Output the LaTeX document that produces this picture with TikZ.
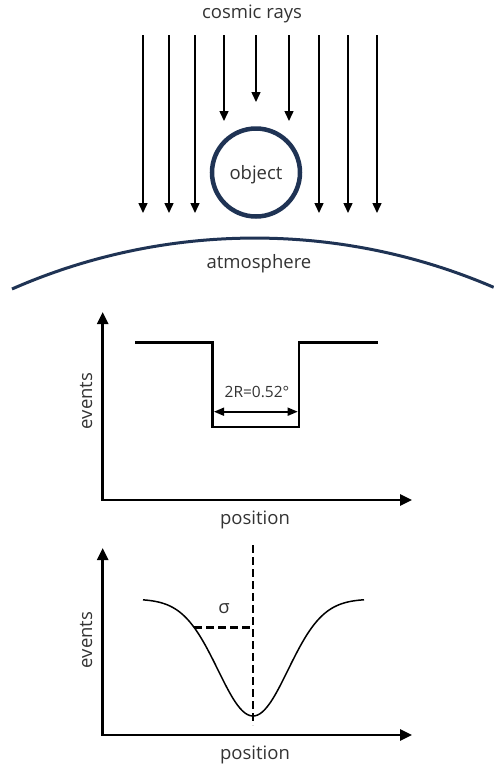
\documentclass[tikz,border=0pt]{standalone}
\usepackage{fontspec}
\setmainfont{Open Sans}
\usetikzlibrary{arrows.meta}
\definecolor{navy}{HTML}{1F3354}
\definecolor{txt}{HTML}{333333}

\begin{document}
\begin{tikzpicture}[x=1pt, y=-1pt,
	lbl/.style={text=txt, font=\fontsize{18.5}{22}\selectfont, inner sep=0pt},
	ray/.style={line width=1.5pt, -{Triangle[width=9pt, length=10pt]}},
	axis/.style={line width=2.6pt, {Triangle[width=11pt, length=12pt]}-{Triangle[width=11pt, length=12pt]}},
	dimline/.style={line width=1.6pt, {Triangle[width=8pt, length=10pt]}-{Triangle[width=8pt, length=10pt]}},
	]
	\useasboundingbox (0,0) rectangle (494,766);
	% cosmic rays and object
	\node[lbl] (rays) at (252,14) {cosmic rays};
	\foreach \x in {143,169,195,319,348,377}
		\draw[ray] (\x,35) -- (\x,213);
	\foreach \x/\y in {224/121,256/102,289/121}
		\draw[ray] (\x,35) -- (\x,\y);
	\draw[navy, line width=4.5pt] (256,172.5) circle (44);
	\node[lbl] (obj) at (256,175) {object};
	\draw[navy, line width=3pt] (12,289) arc[start angle=246.3, end angle=293.3, radius=604];
	\node[lbl] (atm) at (259,264) {atmosphere};
	% top hat
	\coordinate (o1) at (102.7,500);
	\draw[axis] (102.7,312) -- (o1) -- (412,500);
	\draw[line width=2.6pt] (135,342.7) -- (212.7,342.7) -- (212.7,427) -- (299,427) -- (299,342.7) -- (377.7,342.7);
	\coordinate (wl) at (214,411.7);
	\coordinate (wr) at (297.7,411.7);
	\draw[dimline] (wl) -- (wr);
	\node[lbl, font=\fontsize{15.5}{18}\selectfont] (width) at (257,392) {2R=0.52°};
	\node[lbl, rotate=90] (ev1) at (86,401) {events};
	\node[lbl] (pos1) at (255,520) {position};
	% gaussian
	\coordinate (o2) at (102.7,735);
	\draw[axis] (102.7,548) -- (o2) -- (412,735);
	\draw[line width=1.5pt, domain=143:364, samples=90, smooth] plot (\x, {599+117*exp(-((\x-253)/35)^2/2)});
	\coordinate (top) at (253,545);
	\coordinate (bot) at (253,725);
	\coordinate (half) at (194.3,627.7);
	\draw[line width=2.8pt, dash pattern=on 8pt off 4pt] (top) -- (bot);
	\draw[line width=2.8pt, dash pattern=on 8pt off 4pt] (half) -- (253,627.7);
	\node[lbl] (sigma) at (224,609) {σ};
	\node[lbl, rotate=90] (ev2) at (86,640) {events};
	\node[lbl] (pos2) at (255,755) {position};
\end{tikzpicture}
\end{document}
